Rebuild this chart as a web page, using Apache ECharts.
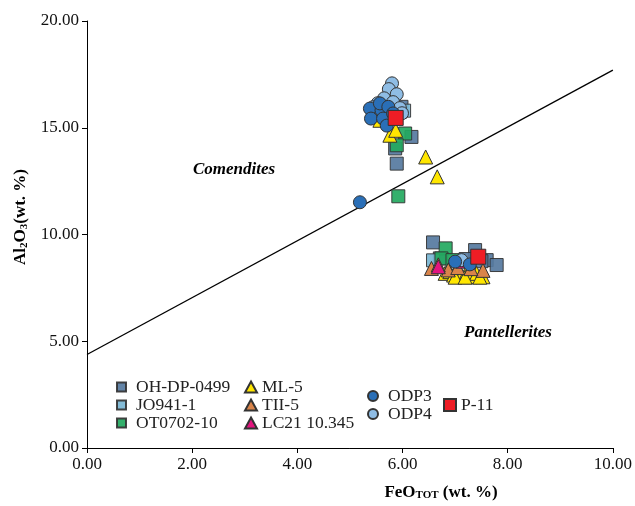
<!DOCTYPE html>
<html>
<head>
<meta charset="utf-8">
<script src="https://cdn.jsdelivr.net/npm/echarts@6/dist/echarts.min.js"></script>
<style>html,body{margin:0;padding:0;background:#fff}#c{width:635px;height:506px}</style>
</head>
<body>
<div id="c"></div>
<script>
// Data: [FeOtot, Al2O3] pairs (wt. %)
const ohdp0499 = [[5.98,15.98],[6.17,14.57],[5.86,14.03],[5.89,13.32],[5.95,15.75],[6.58,9.63],[7.38,9.27],[7.60,8.80],[7.79,8.57],[6.71,8.88],[7.20,8.85],[7.50,8.75]];
const jo9411 = [[6.03,15.80],[5.52,15.55],[6.58,8.79]];
const ot070210 = [[6.05,14.73],[5.89,14.18],[5.92,11.79],[6.82,9.35],[6.74,8.88],[6.95,8.80]];
const ml5 = [[5.57,15.35],[5.76,14.65],[5.87,14.88],[6.44,13.63],[6.66,12.70],[6.81,8.18],[6.90,8.26],[6.97,8.10],[7.06,8.26],[7.12,8.10],[7.22,8.26],[7.28,8.02],[7.41,8.18],[7.53,8.02],[7.00,8.00],[7.19,8.00],[7.47,8.00]];
const tii5 = [[6.55,8.41],[6.87,8.34],[6.68,8.58],[7.53,8.32],[7.05,8.45],[7.30,8.40]];
const lc21 = [[6.68,8.49],[7.15,8.75]];
const odp4 = [[5.80,17.08],[5.74,16.81],[5.89,16.57],[5.65,16.38],[5.82,16.20],[5.53,16.15],[5.95,15.92],[5.99,15.68],[5.44,15.96],[5.68,15.96],[7.12,8.80]];
const odp3 = [[5.38,15.90],[5.40,15.43],[5.60,15.82],[5.57,16.14],[5.73,15.98],[5.63,15.43],[5.82,15.67],[5.70,15.10],[5.19,11.51],[7.00,8.73],[7.28,8.60]];
const p11 = [[5.87,15.46],[7.44,8.96]];
const divideLine = [[0,4.38],[10,17.70]];
const xTicks = {min:0, max:10, interval:2};
const yTicks = {min:0, max:20, interval:5};

const serif = '"Liberation Serif","Times New Roman",serif';
const chart = echarts.init(document.getElementById('c'), null, {renderer:'canvas'});

function sc(name, data, symbol, size, color, opacity) {
  return {
    name: name, type: 'scatter', data: data, symbol: symbol, symbolSize: size,
    itemStyle: {color: color, borderColor: '#333', borderWidth: 1, opacity: opacity || 1},
    emphasis: {disabled: true}, animation: false
  };
}
const tri = 'triangle';
const legendText = {fontFamily: serif, fontSize: 17.5, color: '#222', lineHeight: 16.7};

chart.setOption({
  backgroundColor: '#fff',
  animation: false,
  grid: {left: 87, right: 21, top: 21, bottom: 58},
  xAxis: {
    type: 'value', min: xTicks.min, max: xTicks.max, interval: xTicks.interval,
    splitLine: {show: false},
    axisLine: {show: true, onZero: false, lineStyle: {color: '#000', width: 1}},
    axisTick: {show: true, length: 5, lineStyle: {color: '#000'}},
    axisLabel: {formatter: v => v.toFixed(2), fontFamily: serif, fontSize: 17, color: '#111', margin: 8}
  },
  yAxis: {
    type: 'value', min: yTicks.min, max: yTicks.max, interval: yTicks.interval,
    splitLine: {show: false},
    axisLine: {show: true, onZero: false, lineStyle: {color: '#000', width: 1}},
    axisTick: {show: true, length: 5, lineStyle: {color: '#000'}},
    axisLabel: {formatter: v => v.toFixed(2), fontFamily: serif, fontSize: 17, color: '#111', margin: 8}
  },
  legend: [
    {data: ['OH-DP-0499','JO941-1','OT0702-10'], orient: 'vertical', left: 111, top: 373, itemGap: 0,
     itemWidth: 9, itemHeight: 9, selectedMode: false, textStyle: Object.assign({padding:[0,0,0,5]}, legendText)},
    {data: ['ML-5','TII-5','LC21 10.345'], orient: 'vertical', left: 239, top: 373, itemGap: 0,
     itemWidth: 12, itemHeight: 11, selectedMode: false, textStyle: legendText},
    {data: ['ODP3','ODP4'], orient: 'vertical', left: 362, top: 382, itemGap: 0,
     itemWidth: 10, itemHeight: 10, selectedMode: false, textStyle: Object.assign({padding:[0,0,0,5]}, legendText)},
    {data: ['P-11'], orient: 'vertical', left: 438, top: 391, itemGap: 0,
     itemWidth: 12, itemHeight: 12, selectedMode: false, textStyle: legendText}
  ],
  graphic: [
    {type: 'text', x: 234, y: 170, silent: true,
     style: {text: 'Comendites', font: 'italic bold 17px ' + serif, fill: '#000', align: 'center', verticalAlign: 'middle'}},
    {type: 'text', x: 508, y: 333, silent: true,
     style: {text: 'Pantellerites', font: 'italic bold 17px ' + serif, fill: '#000', align: 'center', verticalAlign: 'middle'}},
    {type: 'text', x: 441, y: 493, silent: true,
     style: {text: '{a|FeO}{b|TOT}{a| (wt. %)}', align: 'center', verticalAlign: 'middle', fill: '#000',
       rich: {a: {fontFamily: serif, fontWeight: 'bold', fontSize: 17, fill: '#000', lineHeight: 18},
              b: {fontFamily: serif, fontWeight: 'bold', fontSize: 11, fill: '#000', lineHeight: 18, padding: [4,0,0,0]}}}},
    {type: 'text', x: 21, y: 217, rotation: Math.PI / 2, silent: true,
     style: {text: '{a|Al}{s|2}{a|O}{s|3}{a|(wt. %)}', align: 'center', verticalAlign: 'middle', fill: '#000',
       rich: {a: {fontFamily: serif, fontWeight: 'bold', fontSize: 17, fill: '#000', lineHeight: 18},
              s: {fontFamily: serif, fontWeight: 'bold', fontSize: 11, fill: '#000', lineHeight: 18, padding: [6,0,0,0]}}}}
  ],
  series: [
    {type: 'line', data: divideLine, symbol: 'none', lineStyle: {color: '#000', width: 1.3}, silent: true, z: 1, animation: false},
    sc('OH-DP-0499', ohdp0499, 'rect', 13, '#56799f', 0.92),
    sc('JO941-1', jo9411, 'rect', 13, '#7ab6d4', 0.92),
    sc('OT0702-10', ot070210, 'rect', 13, '#23a95f', 0.92),
    sc('ML-5', ml5, tri, 14, '#ffe600'),
    sc('TII-5', tii5, tri, 14, '#d9844a'),
    sc('LC21 10.345', lc21, tri, 14, '#e3157f'),
    sc('ODP4', odp4, 'circle', 13, '#8fbde5'),
    sc('ODP3', odp3, 'circle', 13, '#2a6fb7'),
    sc('P-11', p11, 'rect', 15, '#ee1d25')
  ]
});
</script>
</body>
</html>
